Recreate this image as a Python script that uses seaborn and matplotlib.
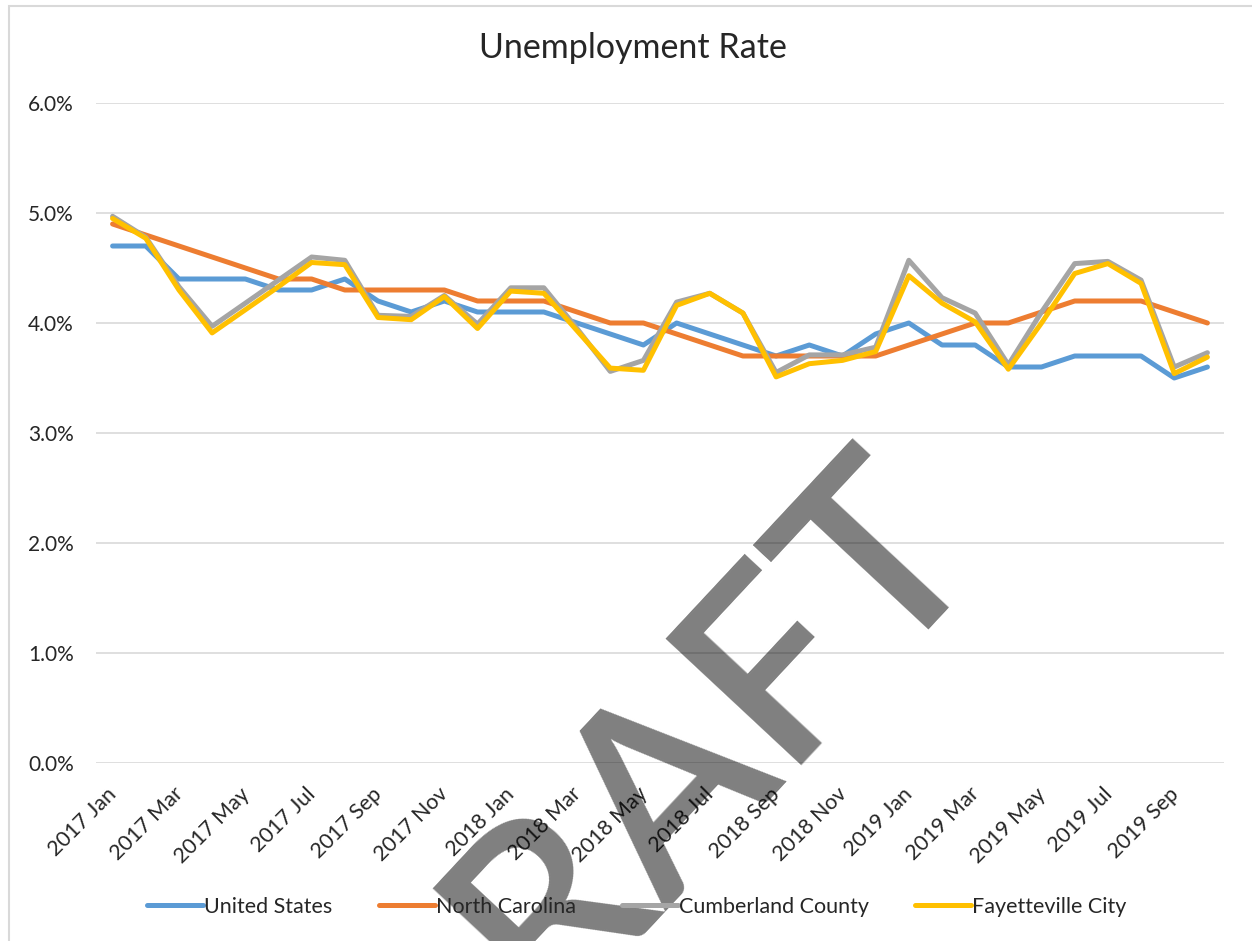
import pandas as pd
import matplotlib
matplotlib.use("Agg")
import matplotlib.pyplot as plt
import matplotlib.transforms as mtransforms
import seaborn as sns
from matplotlib.patches import Rectangle

sns.set_style("white")
plt.rcParams['font.family'] = ['Lato', 'DejaVu Sans']

# 데이터
months = ['2017 Jan', '2017 Feb', '2017 Mar', '2017 Apr', '2017 May', '2017 Jun',
          '2017 Jul', '2017 Aug', '2017 Sep', '2017 Oct', '2017 Nov', '2017 Dec',
          '2018 Jan', '2018 Feb', '2018 Mar', '2018 Apr', '2018 May', '2018 Jun',
          '2018 Jul', '2018 Aug', '2018 Sep', '2018 Oct', '2018 Nov', '2018 Dec',
          '2019 Jan', '2019 Feb', '2019 Mar', '2019 Apr', '2019 May', '2019 Jun',
          '2019 Jul', '2019 Aug', '2019 Sep', '2019 Oct']

united_states = [4.7, 4.7, 4.4, 4.4, 4.4, 4.3, 4.3, 4.4, 4.2, 4.1, 4.2, 4.1,
                 4.1, 4.1, 4.0, 3.9, 3.8, 4.0, 3.9, 3.8, 3.7, 3.8, 3.7, 3.9,
                 4.0, 3.8, 3.8, 3.6, 3.6, 3.7, 3.7, 3.7, 3.5, 3.6]
north_carolina = [4.9, 4.8, 4.7, 4.6, 4.5, 4.4, 4.4, 4.3, 4.3, 4.3, 4.3, 4.2,
                  4.2, 4.2, 4.1, 4.0, 4.0, 3.9, 3.8, 3.7, 3.7, 3.7, 3.7, 3.7,
                  3.8, 3.9, 4.0, 4.0, 4.1, 4.2, 4.2, 4.2, 4.1, 4.0]
cumberland = [4.97, 4.78, 4.33, 3.97, 4.18, 4.39, 4.60, 4.57, 4.07, 4.06, 4.25, 3.99,
              4.32, 4.32, 3.95, 3.56, 3.66, 4.19, 4.27, 4.09, 3.55, 3.71, 3.71, 3.78,
              4.57, 4.23, 4.09, 3.62, 4.10, 4.54, 4.56, 4.39, 3.60, 3.73]
fayetteville = [4.95, 4.77, 4.30, 3.91, 4.12, 4.33, 4.55, 4.53, 4.05, 4.03, 4.24, 3.95,
                4.29, 4.27, 3.93, 3.59, 3.57, 4.16, 4.27, 4.09, 3.51, 3.63, 3.66, 3.74,
                4.43, 4.18, 4.01, 3.58, 4.00, 4.45, 4.54, 4.36, 3.54, 3.69]

series_names = ['United States', 'North Carolina', 'Cumberland County', 'Fayetteville City']
colors = ['#5B9BD5', '#ED7D31', '#A5A5A5', '#FFC000']

frames = []
for name, vals in zip(series_names, [united_states, north_carolina, cumberland, fayetteville]):
    frames.append(pd.DataFrame({'idx': range(len(months)), 'rate': vals, 'series': name}))
df = pd.concat(frames, ignore_index=True)

fig = plt.figure(figsize=(12.52, 9.41), dpi=100)
ax = fig.add_axes([96 / 1252, 1 - 763 / 941, 1128 / 1252, 660 / 941])

sns.lineplot(data=df, x='idx', y='rate', hue='series', hue_order=series_names,
             palette=colors, linewidth=3.6, sort=False, ax=ax)

ax.set_xlim(-0.5, len(months) - 0.5)
ax.set_ylim(0, 6)
ax.set_yticks(range(0, 7))
ax.set_yticklabels([f"{v:.1f}%" for v in range(0, 7)], fontsize=15)
ax.set_xticks(range(0, len(months), 2))
ax.set_xticklabels(months[::2], fontsize=15.5, rotation=45, ha='right', va='top')
ax.tick_params(axis='x', length=0, pad=15)
ax.tick_params(axis='y', length=0, pad=16)
# 라벨 끝을 눈금 위치에 맞추기
shift = mtransforms.ScaledTranslation(8 / 100, 0, fig.dpi_scale_trans)
for lbl in ax.get_xticklabels():
    lbl.set_transform(lbl.get_transform() + shift)
ax.grid(axis='y', color='#d9d9d9', linewidth=1.2)
ax.set_axisbelow(True)
for s in ax.spines.values():
    s.set_visible(False)
ax.set_xlabel("")
ax.set_ylabel("")

handles, labels = ax.get_legend_handles_labels()
ax.get_legend().remove()
fig.legend(handles, labels, loc='center', bbox_to_anchor=(637 / 1252, 1 - 907 / 941),
           ncol=4, frameon=False, fontsize=15.5, handlelength=2.6,
           handletextpad=0.05, columnspacing=2.15)

fig.text(633 / 1252, 1 - 48 / 941, "Unemployment Rate", ha='center', va='center', fontsize=24.5)

# 차트 테두리
fig.patches.append(Rectangle((9 / 1252, -0.5), 2, 1.5 - 6 / 941, transform=fig.transFigure,
                             fill=False, edgecolor='#d9d9d9', linewidth=1.5))

# DRAFT 워터마크
fig.text(700 / 1252, 1 - 852 / 941, "DRAFT", ha='center', va='baseline',
         rotation=47, rotation_mode='anchor', fontsize=186, fontweight='semibold',
         color='black', alpha=0.5)

fig.savefig("out.png", dpi=100)
